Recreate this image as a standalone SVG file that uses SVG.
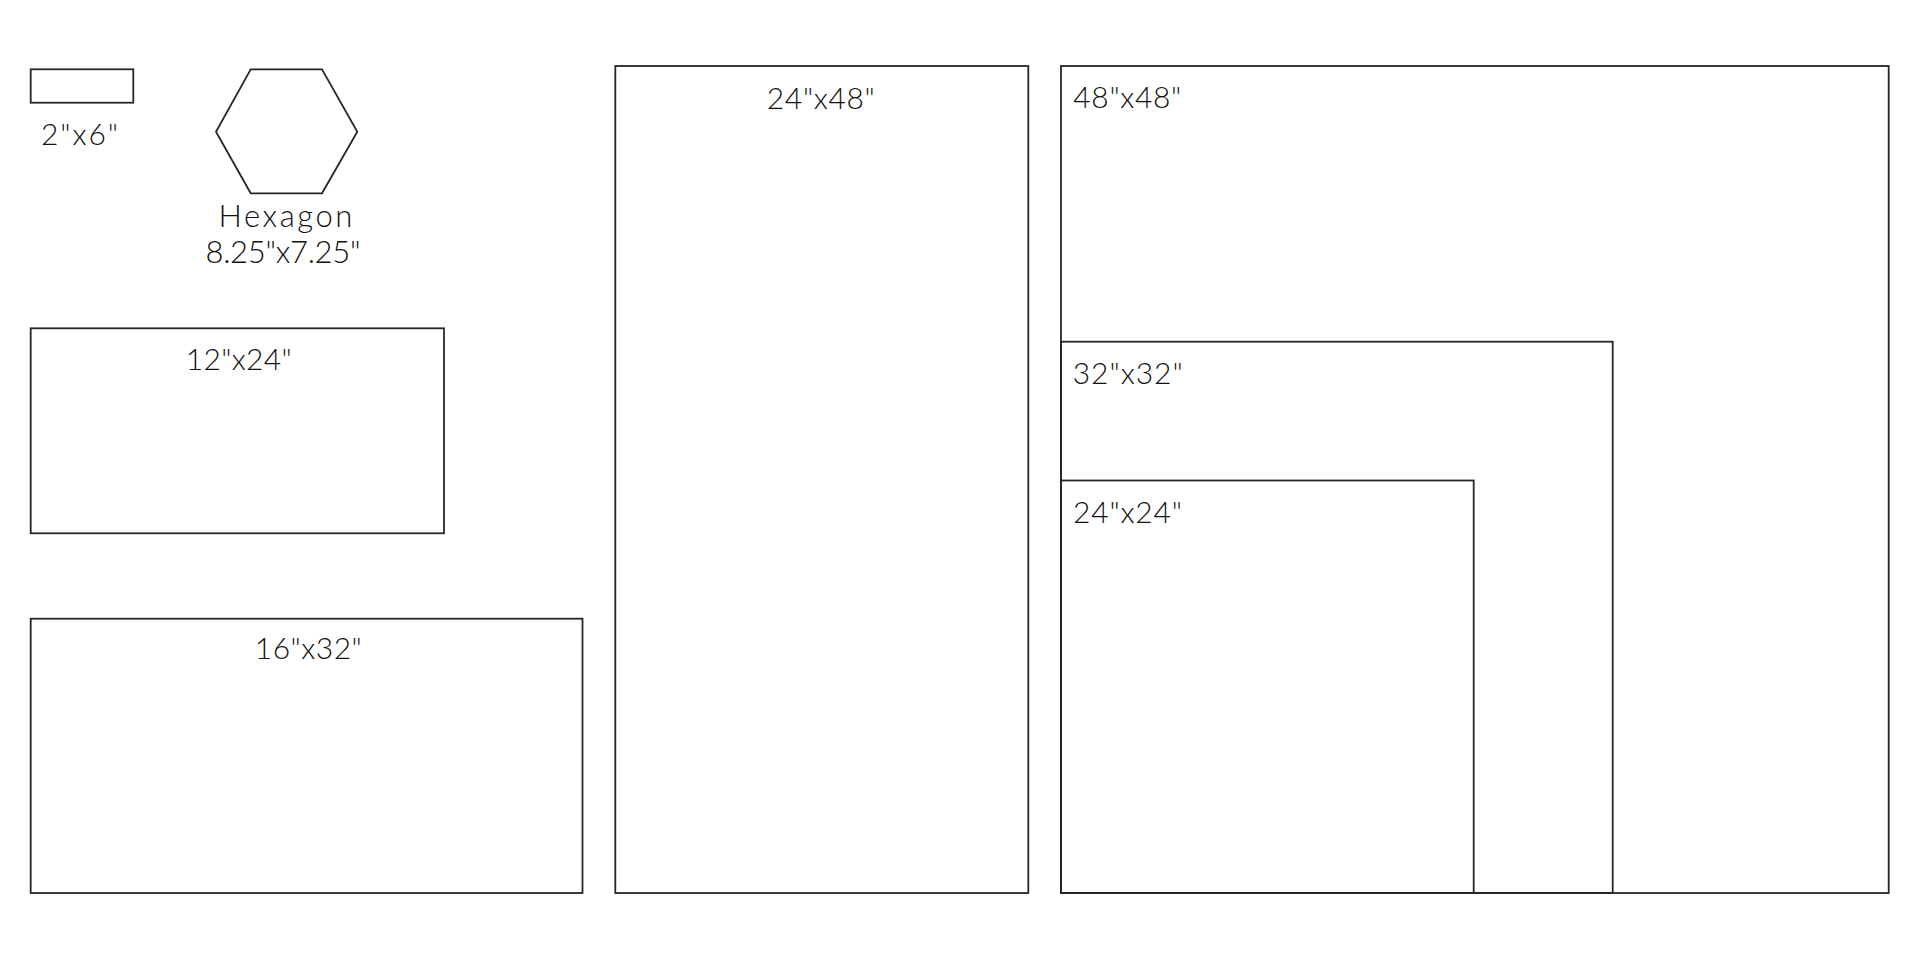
<svg xmlns="http://www.w3.org/2000/svg" width="1920" height="960" viewBox="0 0 1920 960">
<style>
.tile{fill:none;stroke:#262626;stroke-width:1.8}
.lbl{font-family:Lato,"DejaVu Sans",sans-serif;font-size:30px;font-weight:300;fill:#111111}
.mid{text-anchor:middle}
.hex{font-size:31px}
</style>
<rect width="1920" height="960" fill="#ffffff"/>
<g id="connectors"/>
<g id="tile-2x6">
<rect class="tile" x="30.7" y="69.3" width="102.6" height="33.4"/>
<text class="lbl mid" x="79.5" y="145" textLength="77" lengthAdjust="spacing">2"x6"</text>
</g>
<g id="tile-hexagon">
<polygon class="tile" points="250.7,69.3 322,69.3 357.3,131.7 322,193.3 250.7,193.3 216,131.7"/>
<text class="lbl mid hex" x="285.4" y="226.7" textLength="134" lengthAdjust="spacing">Hexagon</text>
<text class="lbl mid hex" x="283" y="263.3" textLength="155" lengthAdjust="spacing">8.25"x7.25"</text>
</g>
<g id="tile-12x24">
<rect class="tile" x="30.7" y="328.3" width="413.3" height="205"/>
<text class="lbl mid" x="238.7" y="370" textLength="106" lengthAdjust="spacing">12"x24"</text>
</g>
<g id="tile-16x32">
<rect class="tile" x="30.7" y="618.7" width="551.8" height="274.3"/>
<text class="lbl mid" x="308.3" y="659.3" textLength="107" lengthAdjust="spacing">16"x32"</text>
</g>
<g id="tile-24x48">
<rect class="tile" x="615.3" y="66" width="413" height="827"/>
<text class="lbl mid" x="820.8" y="109.3" textLength="108" lengthAdjust="spacing">24"x48"</text>
</g>
<g id="tile-48x48">
<rect class="tile" x="1061" y="66" width="827.7" height="827"/>
<text class="lbl" x="1073.3" y="108.3" textLength="108" lengthAdjust="spacing">48"x48"</text>
</g>
<g id="tile-32x32">
<rect class="tile" x="1061" y="341.7" width="551.7" height="551.3"/>
<text class="lbl" x="1072.7" y="384" textLength="110" lengthAdjust="spacing">32"x32"</text>
</g>
<g id="tile-24x24">
<rect class="tile" x="1061" y="480.5" width="412.7" height="412.5"/>
<text class="lbl" x="1073" y="522.7" textLength="109" lengthAdjust="spacing">24"x24"</text>
</g>
</svg>
